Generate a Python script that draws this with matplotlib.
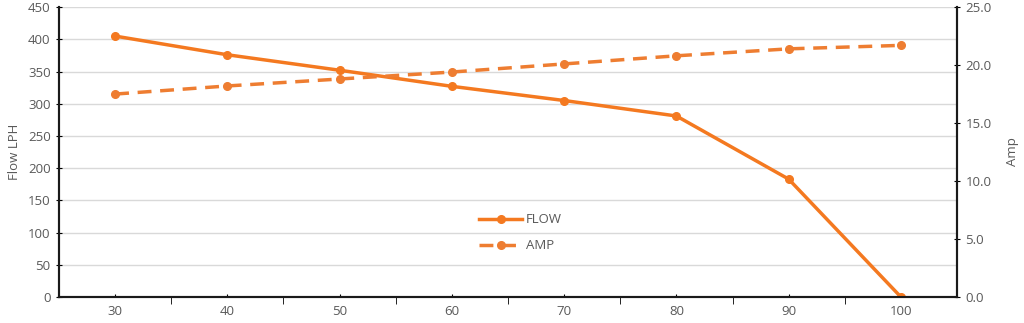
import matplotlib
matplotlib.use("Agg")
import matplotlib.pyplot as plt

x_vals = [30, 40, 50, 60, 70, 80, 90, 100]
flow = [405, 376, 352, 327, 305, 281, 183, 0]
amp = [17.5, 18.2, 18.8, 19.4, 20.1, 20.8, 21.4, 21.7]
left_ticks = [0, 50, 100, 150, 200, 250, 300, 350, 400, 450]
right_ticks = [0, 5, 10, 15, 20, 25]

txt = "#595959"
plt.rcParams['font.family'] = ['Open Sans', 'DejaVu Sans']

fig = plt.figure(figsize=(10.24, 3.23), dpi=100)
ax = fig.add_axes([0.0576, 0.0805, 0.877, 0.8975])
ax2 = ax.twinx()

l1, = ax.plot(x_vals, flow, color="#F47920", lw=2.5, marker="o", ms=5.5, label="FLOW", zorder=3)
l2, = ax2.plot(x_vals, amp, color="#EE7D31", lw=2.5, ls=(0, (4, 2.5)), marker="o", ms=5.5, label="AMP", zorder=3)

ax.set_xlim(25, 105)
ax.set_ylim(0, 450)
ax2.set_ylim(0, 25)
ax.set_yticks(left_ticks)
ax2.set_yticks(right_ticks)
ax2.set_yticklabels([f"{v:.1f}" for v in right_ticks])
ax.set_xticks(x_vals)
ax.set_xticks([35, 45, 55, 65, 75, 85, 95], minor=True)
ax.tick_params(axis='x', which='major', length=2, direction='in', colors="black", labelcolor=txt, labelsize=9.5, pad=6)
ax.tick_params(axis='x', which='minor', length=5, direction='out', colors="black")
ax.tick_params(axis='y', length=5, direction='inout', colors="black", labelcolor=txt, labelsize=9.5)
ax2.tick_params(axis='y', length=5, direction='inout', colors="black", labelcolor=txt, labelsize=9.5)

ax.grid(axis='y', color="#D9D9D9", lw=1)
ax.set_axisbelow(True)
for a in (ax, ax2):
    a.spines['top'].set_visible(False)
    for s in ('left', 'right', 'bottom'):
        a.spines[s].set_linewidth(1.5)
        a.spines[s].set_color("#1a1a1a")

ax.set_ylabel("Flow LPH", color=txt, fontsize=9.5, labelpad=5)
ax2.set_ylabel("Amp", color=txt, fontsize=9.5, labelpad=10)

ax.legend([l1, l2], ["FLOW", "AMP"], loc="upper left", bbox_to_anchor=(0.455, 0.33),
          frameon=False, fontsize=9.5, labelcolor=txt, handlelength=3.2, handletextpad=0.3,
          labelspacing=1.0)

fig.savefig("out.png", dpi=100)
